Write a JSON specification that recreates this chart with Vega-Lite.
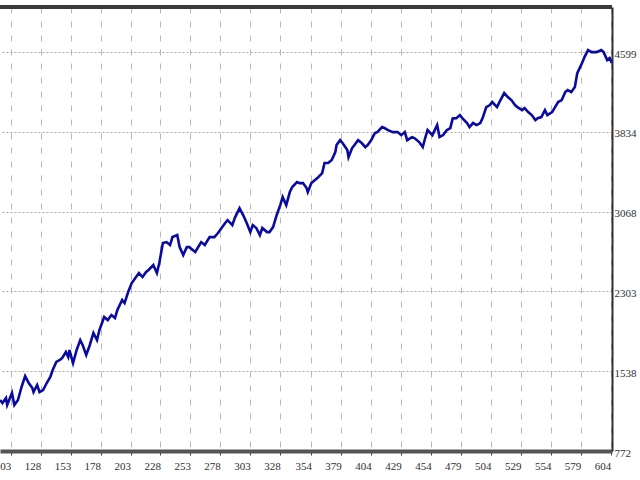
{
  "$schema": "https://vega.github.io/schema/vega-lite/v6.json",
  "description": "Balance curve by trade number",
  "width": 612,
  "height": 444,
  "autosize": {"type": "none"},
  "padding": {"left": 0, "top": 7, "right": 28, "bottom": 29},
  "background": "white",
  "config": {
    "view": {"stroke": null},
    "font": "Liberation Sans Narrow"
  },
  "data": {
    "values": [
      {"trade": 94, "balance": 1261}, {"trade": 96, "balance": 1232}, {"trade": 99, "balance": 1280},
      {"trade": 100, "balance": 1213}, {"trade": 104, "balance": 1328}, {"trade": 106, "balance": 1213},
      {"trade": 109, "balance": 1261}, {"trade": 112, "balance": 1386}, {"trade": 115, "balance": 1491},
      {"trade": 118, "balance": 1424}, {"trade": 121, "balance": 1376}, {"trade": 122, "balance": 1338},
      {"trade": 125, "balance": 1405}, {"trade": 127, "balance": 1338}, {"trade": 130, "balance": 1357},
      {"trade": 133, "balance": 1424}, {"trade": 136, "balance": 1482}, {"trade": 138, "balance": 1549},
      {"trade": 141, "balance": 1626}, {"trade": 144, "balance": 1645}, {"trade": 146, "balance": 1664},
      {"trade": 149, "balance": 1721}, {"trade": 151, "balance": 1673}, {"trade": 152, "balance": 1741},
      {"trade": 155, "balance": 1616}, {"trade": 158, "balance": 1741}, {"trade": 161, "balance": 1836},
      {"trade": 163, "balance": 1789}, {"trade": 166, "balance": 1693}, {"trade": 169, "balance": 1789},
      {"trade": 172, "balance": 1904}, {"trade": 175, "balance": 1836}, {"trade": 177, "balance": 1932},
      {"trade": 181, "balance": 2057}, {"trade": 184, "balance": 2028}, {"trade": 187, "balance": 2076},
      {"trade": 190, "balance": 2047}, {"trade": 192, "balance": 2124}, {"trade": 196, "balance": 2220},
      {"trade": 198, "balance": 2191}, {"trade": 201, "balance": 2297}, {"trade": 204, "balance": 2383},
      {"trade": 207, "balance": 2431}, {"trade": 210, "balance": 2479}, {"trade": 213, "balance": 2441},
      {"trade": 216, "balance": 2489}, {"trade": 218, "balance": 2508}, {"trade": 222, "balance": 2556},
      {"trade": 225, "balance": 2479}, {"trade": 227, "balance": 2575}, {"trade": 230, "balance": 2767},
      {"trade": 233, "balance": 2776}, {"trade": 236, "balance": 2748}, {"trade": 238, "balance": 2824},
      {"trade": 242, "balance": 2843}, {"trade": 244, "balance": 2728}, {"trade": 247, "balance": 2652},
      {"trade": 250, "balance": 2728}, {"trade": 252, "balance": 2728}, {"trade": 257, "balance": 2680},
      {"trade": 259, "balance": 2719}, {"trade": 262, "balance": 2776}, {"trade": 265, "balance": 2748},
      {"trade": 269, "balance": 2824}, {"trade": 273, "balance": 2824}, {"trade": 276, "balance": 2863},
      {"trade": 279, "balance": 2911}, {"trade": 282, "balance": 2959}, {"trade": 284, "balance": 2987},
      {"trade": 288, "balance": 2939}, {"trade": 290, "balance": 3006}, {"trade": 294, "balance": 3102},
      {"trade": 297, "balance": 3035}, {"trade": 300, "balance": 2959}, {"trade": 303, "balance": 2872},
      {"trade": 305, "balance": 2939}, {"trade": 308, "balance": 2911}, {"trade": 311, "balance": 2843},
      {"trade": 313, "balance": 2911}, {"trade": 317, "balance": 2872}, {"trade": 319, "balance": 2872},
      {"trade": 322, "balance": 2920}, {"trade": 325, "balance": 3035}, {"trade": 328, "balance": 3131},
      {"trade": 330, "balance": 3208}, {"trade": 333, "balance": 3131}, {"trade": 336, "balance": 3256},
      {"trade": 338, "balance": 3304}, {"trade": 342, "balance": 3352}, {"trade": 344, "balance": 3342},
      {"trade": 347, "balance": 3342}, {"trade": 350, "balance": 3294}, {"trade": 351, "balance": 3256},
      {"trade": 354, "balance": 3342}, {"trade": 357, "balance": 3371}, {"trade": 359, "balance": 3390},
      {"trade": 363, "balance": 3438}, {"trade": 365, "balance": 3534}, {"trade": 368, "balance": 3534},
      {"trade": 371, "balance": 3563}, {"trade": 374, "balance": 3639}, {"trade": 375, "balance": 3707},
      {"trade": 378, "balance": 3754}, {"trade": 380, "balance": 3726}, {"trade": 384, "balance": 3659},
      {"trade": 385, "balance": 3591}, {"trade": 388, "balance": 3678}, {"trade": 390, "balance": 3707},
      {"trade": 393, "balance": 3754}, {"trade": 396, "balance": 3726}, {"trade": 399, "balance": 3687},
      {"trade": 401, "balance": 3707}, {"trade": 404, "balance": 3754}, {"trade": 407, "balance": 3822},
      {"trade": 409, "balance": 3831}, {"trade": 413, "balance": 3879}, {"trade": 415, "balance": 3870},
      {"trade": 418, "balance": 3850}, {"trade": 422, "balance": 3831}, {"trade": 426, "balance": 3831},
      {"trade": 429, "balance": 3802}, {"trade": 432, "balance": 3831}, {"trade": 434, "balance": 3754},
      {"trade": 438, "balance": 3783}, {"trade": 440, "balance": 3774}, {"trade": 444, "balance": 3735},
      {"trade": 447, "balance": 3687}, {"trade": 449, "balance": 3774}, {"trade": 451, "balance": 3850},
      {"trade": 455, "balance": 3802}, {"trade": 459, "balance": 3898}, {"trade": 461, "balance": 3783},
      {"trade": 464, "balance": 3802}, {"trade": 467, "balance": 3850}, {"trade": 470, "balance": 3870},
      {"trade": 472, "balance": 3961}, {"trade": 475, "balance": 3965}, {"trade": 478, "balance": 3994},
      {"trade": 480, "balance": 3965}, {"trade": 484, "balance": 3918}, {"trade": 486, "balance": 3879},
      {"trade": 489, "balance": 3918}, {"trade": 492, "balance": 3898}, {"trade": 495, "balance": 3918},
      {"trade": 497, "balance": 3965}, {"trade": 500, "balance": 4071}, {"trade": 503, "balance": 4090},
      {"trade": 505, "balance": 4119}, {"trade": 509, "balance": 4071}, {"trade": 511, "balance": 4119},
      {"trade": 515, "balance": 4205}, {"trade": 518, "balance": 4167}, {"trade": 521, "balance": 4138},
      {"trade": 524, "balance": 4090}, {"trade": 526, "balance": 4071}, {"trade": 530, "balance": 4042},
      {"trade": 532, "balance": 4061}, {"trade": 535, "balance": 4023}, {"trade": 538, "balance": 3994},
      {"trade": 541, "balance": 3946}, {"trade": 543, "balance": 3965}, {"trade": 546, "balance": 3975},
      {"trade": 549, "balance": 4042}, {"trade": 551, "balance": 3994}, {"trade": 555, "balance": 4023},
      {"trade": 557, "balance": 4061}, {"trade": 560, "balance": 4119}, {"trade": 563, "balance": 4138},
      {"trade": 566, "balance": 4215}, {"trade": 568, "balance": 4234}, {"trade": 571, "balance": 4215},
      {"trade": 574, "balance": 4263}, {"trade": 576, "balance": 4397}, {"trade": 580, "balance": 4493},
      {"trade": 582, "balance": 4550}, {"trade": 585, "balance": 4618}, {"trade": 588, "balance": 4598},
      {"trade": 592, "balance": 4598}, {"trade": 596, "balance": 4618}, {"trade": 598, "balance": 4598},
      {"trade": 601, "balance": 4522}, {"trade": 603, "balance": 4541}, {"trade": 605, "balance": 4493}
    ]
  },
  "layer": [
    {
      "mark": {"type": "line", "color": "#0a0aa0", "strokeWidth": 2.6, "clip": true},
      "encoding": {
        "x": {
          "field": "trade",
          "type": "quantitative",
          "scale": {"domain": [94, 605], "nice": false, "zero": false},
          "axis": {
            "orient": "bottom",
            "title": null,
            "format": "d",
            "values": [103, 128, 153, 178, 203, 228, 253, 278, 303, 328, 354, 379, 404, 429, 454, 479, 504, 529, 554, 579, 604],
            "labelAlign": "right",
            "labelBaseline": "top",
            "labelPadding": 5,
            "labelFontSize": 11,
            "labelColor": "#303030",
            "labelOverlap": false,
            "labelBound": false,
            "labelFlush": false,
            "tickSize": 4,
            "tickColor": "#404040",
            "tickWidth": 1,
            "domainColor": "#555555",
            "domainWidth": 4,
            "grid": true,
            "gridColor": "#b8b8b8",
            "gridDash": [6, 8],
            "gridWidth": 1
          }
        },
        "y": {
          "field": "balance",
          "type": "quantitative",
          "scale": {"domain": [772, 5031], "nice": false, "zero": false},
          "axis": {
            "orient": "right",
            "title": null,
            "format": "d",
            "values": [772, 1538, 2303, 3068, 3834, 4599],
            "labelFontSize": 11,
            "labelColor": "#303030",
            "labelPadding": 2,
            "labelOffset": 2,
            "labelOverlap": false,
            "labelBound": false,
            "labelFlush": false,
            "tickSize": 0,
            "domainColor": "#303030",
            "domainWidth": 2,
            "grid": true,
            "gridColor": "#a8a8a8",
            "gridDash": [2, 2],
            "gridWidth": 1
          }
        }
      }
    },
    {
      "mark": {"type": "rule", "color": "#3a3a3a", "strokeWidth": 3},
      "encoding": {
        "y": {"datum": 5031, "type": "quantitative"}
      }
    }
  ]
}
